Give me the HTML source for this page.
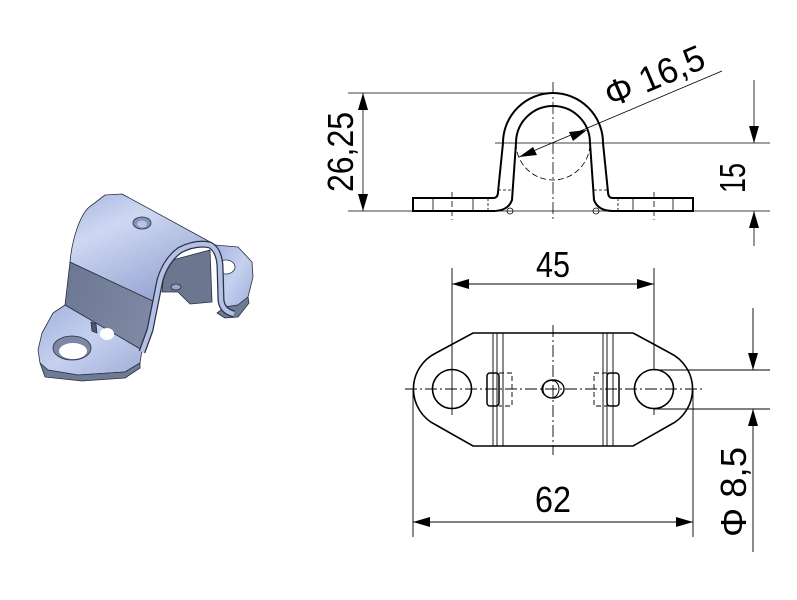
<!DOCTYPE html>
<html><head><meta charset="utf-8"><style>
html,body{margin:0;padding:0;background:#fff}
svg{display:block}
text{font-family:"Liberation Sans",sans-serif;fill:#000}
</style></head><body>
<svg width="797" height="600" viewBox="0 0 797 600" xmlns="http://www.w3.org/2000/svg">
<defs>
<linearGradient id="lt" x1="0" y1="0" x2="0.6" y2="1">
<stop offset="0" stop-color="#a8b6e0"/><stop offset="0.35" stop-color="#cfd8f2"/><stop offset="1" stop-color="#95a4d2"/>
</linearGradient>
<linearGradient id="dk" x1="0" y1="0" x2="1" y2="0.4">
<stop offset="0" stop-color="#6b7690"/><stop offset="1" stop-color="#7e88a2"/>
</linearGradient>
<linearGradient id="fl" x1="0" y1="0" x2="1" y2="1">
<stop offset="0" stop-color="#a3b2de"/><stop offset="0.5" stop-color="#c6d1f0"/><stop offset="1" stop-color="#a0aed8"/>
</linearGradient>
</defs>

<!-- 3D part -->
<g stroke="#2a3040" stroke-width="0.8" stroke-linejoin="round">
<polygon points="215,245 238,247 252,262 253,277 248,297 238,305 225,307 222,303" fill="url(#fl)"/>
<polygon points="225,307 238,305 248,297 249,303 238,317 225,318 217,313" fill="#6f7a94"/>
<ellipse cx="226" cy="267" rx="9" ry="7" fill="#fff"/>
<polygon points="165,262 210,250 212,302 190,304 178,292 162,292" fill="#6c768e"/>
<ellipse cx="176" cy="287" rx="5" ry="3" fill="#9aa6c8"/>
<polygon points="70,262 155,302 150,330 142,350 65,305" fill="url(#dk)"/>
<polygon points="65,305 142,350 140,363 125,372 78,375 48,370 40,363 38,350 42,333 53,313" fill="url(#fl)"/>
<polygon points="40,363 48,370 78,375 125,372 140,363 140,368 125,378 82,381 45,377" fill="#6f7a94"/>
<ellipse cx="72" cy="348" rx="19" ry="12" fill="#7c88a8"/>
<ellipse cx="73" cy="351" rx="14" ry="8" fill="#fff" stroke="none"/>
<polygon points="91,322 96,324 97,333 92,331" fill="#4e566a"/>
<ellipse cx="107" cy="334" rx="7" ry="6" fill="#fff" stroke="none"/>
<path d="M70,262 C72,240 80,212 92,205 L105,195 L122,194 L212,243 Q195,242 182,248 Q168,258 160,277 L155,302 Z" fill="url(#lt)"/>
<ellipse cx="142" cy="223" rx="9" ry="6" fill="#8392b8"/>
<ellipse cx="142" cy="224" rx="5" ry="3.5" fill="#b8c4e6" stroke="none"/>
<path d="M142,352 L150,330 L156,300 L160,280 Q166,260 180,250 Q196,242 210,245 Q219,250 220,266 L221,300 Q222,311 234,314" fill="none" stroke="#2a3040" stroke-width="7" stroke-linecap="butt"/>
<path d="M142,352 L150,330 L156,300 L160,280 Q166,260 180,250 Q196,242 210,245 Q219,250 220,266 L221,300 Q222,311 234,314" fill="none" stroke="#b4c0e6" stroke-width="4.5" stroke-linecap="butt"/>
</g>

<g stroke="#000" fill="none">
<!-- FRONT VIEW -->
<g stroke-width="0.8">
<line x1="348" y1="93" x2="548" y2="93"/>
<line x1="348" y1="211" x2="770" y2="211"/>
<line x1="495" y1="143" x2="770" y2="143"/>
<line x1="363" y1="93" x2="363" y2="211"/>
<line x1="754" y1="80" x2="754" y2="143"/>
<line x1="754" y1="211" x2="754" y2="246"/>
<line x1="519" y1="157" x2="722" y2="71"/>
<line x1="553" y1="82" x2="553" y2="222" stroke-dasharray="12,3,2,3"/>
<path d="M516,143 A37,37 0 0 0 590,143" stroke-dasharray="6,3"/>
<line x1="452" y1="192" x2="452" y2="220" stroke-dasharray="6,3"/>
<line x1="654" y1="192" x2="654" y2="220" stroke-dasharray="6,3"/>
<line x1="488" y1="198" x2="488" y2="211" stroke-dasharray="3,2"/>
<line x1="618" y1="198" x2="618" y2="211" stroke-dasharray="3,2"/>
<line x1="433" y1="198" x2="433" y2="211"/>
<line x1="473" y1="198" x2="473" y2="211"/>
<line x1="633" y1="198" x2="633" y2="211"/>
<line x1="673" y1="198" x2="673" y2="211"/>
<line x1="498" y1="190" x2="512" y2="190" stroke-dasharray="3,2"/>
<line x1="594" y1="190" x2="608" y2="190" stroke-dasharray="3,2"/>
<circle cx="510" cy="211" r="3"/>
<circle cx="596" cy="211" r="3"/>
</g>
<path d="M413,198 L493,198 Q498,198 498,192 L503,143 A50,50 0 0 1 603,143 L608,192 Q608,198 613,198 L693,198 L693,211 L613,211 Q598,211 594,200 L590,143 A37,37 0 0 0 516,143 L512,200 Q508,211 493,211 L413,211 Z" stroke-width="2"/>

<!-- TOP VIEW -->
<path d="M473,333 L633,333 L670,353 A40,40 0 0 1 670,425 L633,446 L473,446 L436,425 A40,40 0 0 1 436,353 Z" stroke-width="1.6"/>
<circle cx="452" cy="389" r="19.5" stroke-width="1.6"/>
<circle cx="654" cy="389" r="19.5" stroke-width="1.6"/>
<ellipse cx="553" cy="389" rx="11" ry="9" stroke-width="1.4"/>
<ellipse cx="551" cy="389" rx="8" ry="9" stroke-width="1"/>
<rect x="487" y="373" width="12" height="33" rx="3" stroke-width="1.5"/>
<rect x="607" y="373" width="12" height="33" rx="3" stroke-width="1.5"/>
<g stroke-width="0.9">
<path d="M499,373 L512,373 L512,406 L499,406" stroke-dasharray="5,3"/>
<path d="M607,373 L594,373 L594,406 L607,406" stroke-dasharray="5,3"/>
<line x1="493" y1="333" x2="493" y2="446"/>
<line x1="497" y1="333" x2="497" y2="446"/>
<line x1="503" y1="333" x2="503" y2="446"/>
<line x1="603" y1="333" x2="603" y2="446"/>
<line x1="607" y1="333" x2="607" y2="446"/>
<line x1="613" y1="333" x2="613" y2="446"/>
<line x1="405" y1="389" x2="702" y2="389" stroke-dasharray="12,3,2,3"/>
<line x1="553" y1="325" x2="553" y2="455" stroke-dasharray="12,3,2,3"/>
<line x1="452" y1="268" x2="452" y2="415"/>
<line x1="654" y1="268" x2="654" y2="370"/>
<line x1="654" y1="409" x2="654" y2="415"/>
<line x1="452" y1="284" x2="654" y2="284"/>
<line x1="413" y1="389" x2="413" y2="537"/>
<line x1="693" y1="389" x2="693" y2="537"/>
<line x1="413" y1="522" x2="693" y2="522"/>
<line x1="654" y1="370" x2="770" y2="370"/>
<line x1="654" y1="409" x2="770" y2="409"/>
<line x1="753" y1="308" x2="753" y2="370"/>
<line x1="753" y1="409" x2="753" y2="552"/>
</g>
</g>

<!-- arrowheads -->
<g fill="#000">
<polygon points="363,93 358,110 368,110"/>
<polygon points="363,211 358,194 368,194"/>
<polygon points="754,143 749,126 759,126"/>
<polygon points="754,211 749,228 759,228"/>
<polygon points="519,157 533,147 537,155"/>
<polygon points="587,130 569,132 573,141"/>
<polygon points="452,284 469,279 469,289"/>
<polygon points="654,284 637,279 637,289"/>
<polygon points="413,522 430,517 430,527"/>
<polygon points="693,522 676,517 676,527"/>
<polygon points="753,370 748,353 758,353"/>
<polygon points="753,409 748,426 758,426"/>
</g>

<!-- labels -->
<text x="553" y="277" font-size="36" text-anchor="middle" textLength="34" lengthAdjust="spacingAndGlyphs">45</text>
<text x="553" y="512" font-size="36" text-anchor="middle" textLength="36" lengthAdjust="spacingAndGlyphs">62</text>
<text transform="translate(353,152) rotate(-90)" font-size="36" text-anchor="middle" textLength="80" lengthAdjust="spacingAndGlyphs">26,25</text>
<text transform="translate(745,178) rotate(-90)" font-size="36" text-anchor="middle" textLength="30" lengthAdjust="spacingAndGlyphs">15</text>
<text transform="translate(746,492) rotate(-90)" font-size="36" text-anchor="middle" textLength="90" lengthAdjust="spacingAndGlyphs">Φ 8,5</text>
<text transform="translate(611,108) rotate(-23)" font-size="36" textLength="105" lengthAdjust="spacingAndGlyphs">Φ 16,5</text>
</svg>
</body></html>
